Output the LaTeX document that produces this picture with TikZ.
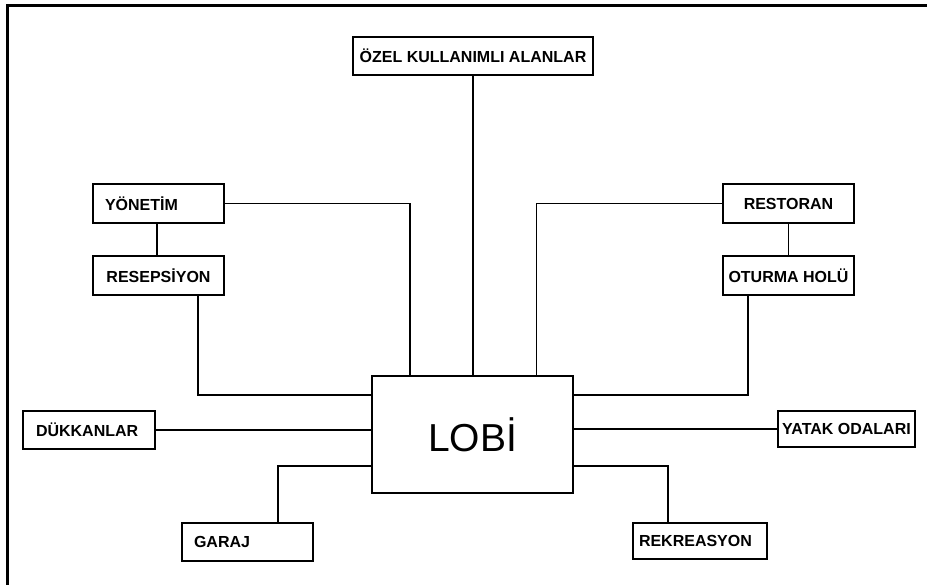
\documentclass[tikz,border=0pt]{standalone}
\usepackage{fontspec}
\setmainfont{Liberation Sans}
\begin{document}
\begin{tikzpicture}[x=1pt,y=-1pt,
  box/.style={draw, line width=1.8pt, rectangle, inner ysep=0pt,
    font=\bfseries\fontsize{16}{17}\selectfont},
  cbox/.style={box, align=center, inner xsep=3pt},
  lbox/.style 2 args={box, align=left, inner xsep=#2pt, text width=#1pt-2*#2pt, minimum width=#1pt},
  link/.style={line width=1.3pt}]
\useasboundingbox (0,0) rectangle (927,585);
% outer frame
\draw[line width=3pt] (7.5,600) |- (940,5.5);

% central hall
\node[draw, line width=1.8pt, minimum width=201pt, minimum height=117pt,
      font=\fontsize{39}{40}\selectfont] (lobi) at (472.5,434.5) {LOB\.I};

% surrounding spaces
\node[cbox, minimum width=240pt, minimum height=38pt] (ozel) at (473,56) {ÖZEL KULLANIMLI ALANLAR};
\node[lbox={131}{12}, minimum height=39pt] (yon) at (158.5,203.5) {YÖNET\.IM};
\node[cbox, minimum width=131pt, minimum height=39pt] (res) at (158.5,275.5) {RESEPS\.IYON};
\node[cbox, minimum width=131pt, minimum height=39pt] (rest) at (788.5,203.5) {RESTORAN};
\node[cbox, minimum width=131pt, minimum height=39pt] (oth) at (788.5,275.5) {OTURMA HOLÜ};
\node[lbox={132}{13}, minimum height=38pt] (duk) at (89,430) {DÜKKANLAR};
\node[cbox, minimum width=137pt, minimum height=36pt] (yatak) at (846.5,429) {YATAK ODALARI};
\node[lbox={131}{12}, minimum height=38pt] (garaj) at (247.5,542) {GARAJ};
\node[lbox={134}{6}, minimum height=36pt] (rek) at (700,541) {REKREASYON};

% connections
\draw[link] (ozel.south) -- (ozel.south |- lobi.north);
\draw[link] (yon.east) -| ([xshift=39pt]lobi.north west);
\draw[link] ([xshift=-1.5pt]yon.south) -- ([xshift=-1.5pt]res.north);
\draw[link] ([xshift=39.5pt]res.south) |- ([yshift=39.5pt]lobi.west);
\draw[link] (rest.west) -| ([xshift=-37.5pt]lobi.north east);
\draw[link] (rest.south) -- (oth.north);
\draw[link] ([xshift=-40.5pt]oth.south) |- ([yshift=39.5pt]lobi.east);
\draw[link] (duk.east) -- (duk.east -| lobi.west);
\draw[link] (yatak.west) -- (yatak.west -| lobi.east);
\draw[link] ([xshift=30.5pt]garaj.north) |- ([yshift=-31.5pt]lobi.west);
\draw[link] ([xshift=-32pt]rek.north) |- ([yshift=-31.5pt]lobi.east);
\end{tikzpicture}
\end{document}
